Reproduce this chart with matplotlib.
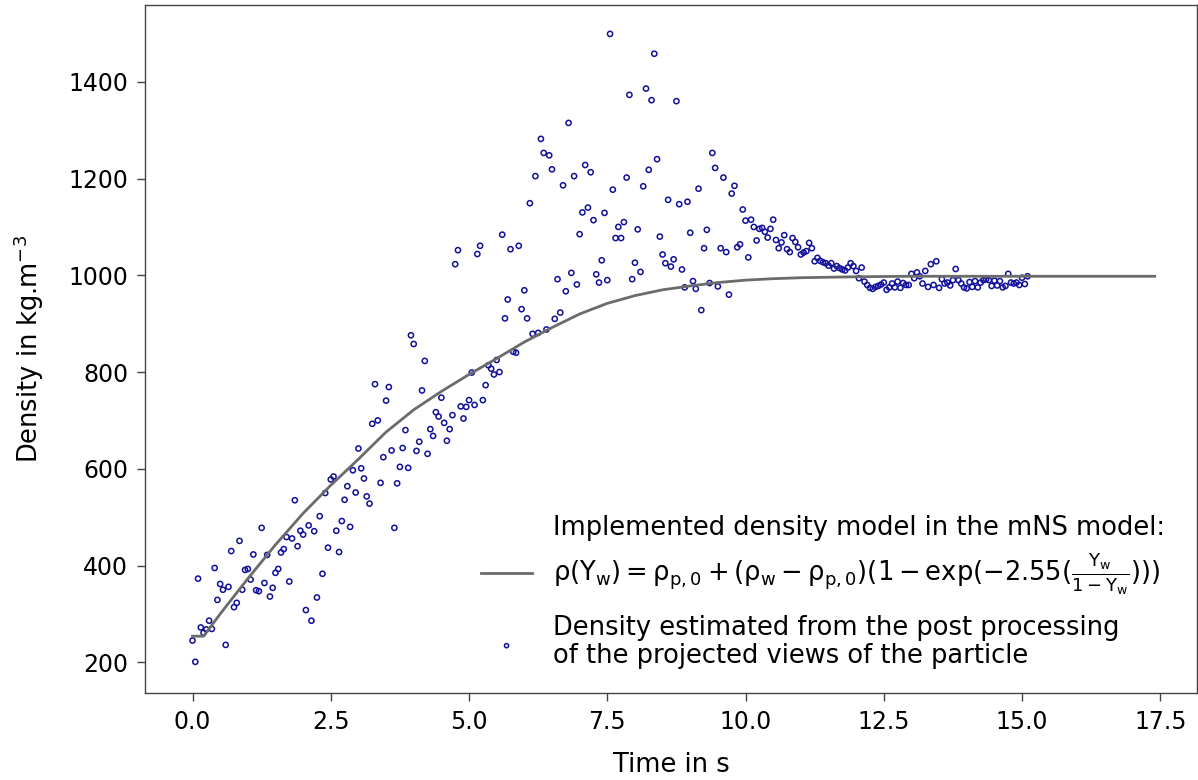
import matplotlib
matplotlib.use("Agg")
import matplotlib.pyplot as plt
from matplotlib.offsetbox import TextArea

plt.rcParams["font.family"] = ["DejaVu Sans"]
plt.rcParams["mathtext.default"] = "regular"

# --- measured points (time in s, density in kg/m3) ---
time_s = [
    0.0, 0.05, 0.1, 0.15, 0.2, 0.25, 0.3, 0.35, 0.4, 0.45, 0.5, 0.55, 0.6, 0.65, 0.7, 0.75, 0.8, 0.85, 0.9, 0.95,
    1.0, 1.05, 1.1, 1.15, 1.2, 1.25, 1.3, 1.35, 1.4, 1.45, 1.5, 1.55, 1.6, 1.65, 1.7, 1.75, 1.8, 1.85, 1.9, 1.95,
    2.0, 2.05, 2.1, 2.15, 2.2, 2.25, 2.3, 2.35, 2.4, 2.45, 2.5, 2.55, 2.6, 2.65, 2.7, 2.75, 2.8, 2.85, 2.9, 2.95,
    3.0, 3.05, 3.1, 3.15, 3.2, 3.25, 3.3, 3.35, 3.4, 3.45, 3.5, 3.55, 3.6, 3.65, 3.7, 3.75, 3.8, 3.85, 3.9, 3.95,
    4.0, 4.05, 4.1, 4.15, 4.2, 4.25, 4.3, 4.35, 4.4, 4.45, 4.5, 4.55, 4.6, 4.65, 4.7, 4.75, 4.8, 4.85, 4.9, 4.95,
    5.0, 5.05, 5.1, 5.15, 5.2, 5.25, 5.3, 5.35, 5.4, 5.45, 5.5, 5.55, 5.6, 5.65, 5.7, 5.75, 5.8, 5.85, 5.9, 5.95,
    6.0, 6.05, 6.1, 6.15, 6.2, 6.25, 6.3, 6.35, 6.4, 6.45, 6.5, 6.55, 6.6, 6.65, 6.7, 6.75, 6.8, 6.85, 6.9, 6.95,
    7.0, 7.05, 7.1, 7.15, 7.2, 7.25, 7.3, 7.35, 7.4, 7.45, 7.5, 7.55, 7.6, 7.65, 7.7, 7.75, 7.8, 7.85, 7.9, 7.95,
    8.0, 8.05, 8.1, 8.15, 8.2, 8.25, 8.3, 8.35, 8.4, 8.45, 8.5, 8.55, 8.6, 8.65, 8.7, 8.75, 8.8, 8.85, 8.9, 8.95,
    9.0, 9.05, 9.1, 9.15, 9.2, 9.25, 9.3, 9.35, 9.4, 9.45, 9.5, 9.55, 9.6, 9.65, 9.7, 9.75, 9.8, 9.85, 9.9, 9.95,
    10.0, 10.05, 10.1, 10.15, 10.2, 10.25, 10.3, 10.35, 10.4, 10.45, 10.5, 10.55, 10.6, 10.65, 10.7, 10.75, 10.8, 10.85, 10.9, 10.95,
    11.0, 11.05, 11.1, 11.15, 11.2, 11.25, 11.3, 11.35, 11.4, 11.45, 11.5, 11.55, 11.6, 11.65, 11.7, 11.75, 11.8, 11.85, 11.9, 11.95,
    12.0, 12.05, 12.1, 12.15, 12.2, 12.25, 12.3, 12.35, 12.4, 12.45, 12.5, 12.55, 12.6, 12.65, 12.7, 12.75, 12.8, 12.85, 12.9, 12.95,
    13.0, 13.05, 13.1, 13.15, 13.2, 13.25, 13.3, 13.35, 13.4, 13.45, 13.5, 13.55, 13.6, 13.65, 13.7, 13.75, 13.8, 13.85, 13.9, 13.95,
    14.0, 14.05, 14.1, 14.15, 14.2, 14.25, 14.3, 14.35, 14.4, 14.45, 14.5, 14.55, 14.6, 14.65, 14.7, 14.75, 14.8, 14.85, 14.9, 14.95,
    15.0, 15.05, 15.1,
]
density = [
    245, 201, 373, 272, 261, 268, 286, 269, 395, 329, 362, 350, 236, 356, 430, 314, 323, 451, 350, 391,
    393, 371, 423, 349, 347, 478, 364, 422, 336, 354, 385, 393, 427, 434, 459, 367, 456, 535, 440, 472,
    464, 308, 483, 286, 471, 334, 502, 383, 550, 437, 578, 584, 472, 428, 492, 536, 564, 480, 597, 551,
    642, 601, 580, 543, 528, 693, 775, 700, 571, 624, 741, 769, 638, 478, 570, 604, 643, 680, 602, 876,
    858, 637, 656, 762, 823, 631, 682, 668, 717, 708, 747, 695, 658, 682, 711, 1023, 1052, 729, 704, 728,
    742, 799, 732, 1044, 1061, 742, 773, 814, 807, 795, 825, 800, 1084, 911, 950, 1054, 842, 840, 1061, 930,
    969, 911, 1149, 879, 1205, 881, 1282, 1253, 888, 1248, 1219, 910, 992, 923, 1186, 967, 1315, 1005, 1205, 981,
    1085, 1130, 1228, 1140, 1213, 1114, 1002, 985, 1031, 1129, 990, 1499, 1177, 1077, 1100, 1077, 1110, 1202, 1373, 992,
    1026, 1095, 1007, 1184, 1386, 1218, 1362, 1458, 1240, 1080, 1043, 1025, 1156, 1018, 1033, 1360, 1147, 1012, 975, 1152,
    1088, 988, 972, 1179, 928, 1056, 1094, 984, 1253, 1222, 977, 1056, 1202, 1048, 960, 1169, 1185, 1058, 1064, 1136,
    1113, 1037, 1115, 1100, 1072, 1096, 1098, 1090, 1078, 1096, 1115, 1073, 1056, 1068, 1083, 1054, 1048, 1077, 1069, 1058,
    1043, 1047, 1050, 1067, 1056, 1029, 1036, 1030, 1027, 1025, 1020, 1025, 1014, 1019, 1015, 1012, 1010, 1016, 1025, 1019,
    1009, 994, 1016, 987, 980, 974, 972, 976, 978, 981, 985, 970, 975, 983, 975, 987, 974, 984, 980, 980,
    1003, 994, 1006, 998, 983, 1009, 976, 1023, 980, 1029, 974, 992, 983, 985, 979, 990, 1013, 990, 983, 975,
    973, 986, 976, 988, 975, 985, 990, 992, 990, 978, 989, 979, 988, 975, 978, 1003, 985, 983, 985, 980,
    995, 982, 998,
]

# --- model curve ---
model_t = [0.0, 0.2, 0.5, 1.0, 1.5, 2.0, 2.5, 3.0, 3.5, 4.0, 4.5, 5.0, 5.5, 6.0, 6.5,
           7.0, 7.5, 8.0, 8.5, 9.0, 9.5, 10.0, 10.5, 11.0, 12.0, 13.0, 17.4]
model_rho = [254, 254, 300, 373, 443, 508, 566, 620, 676, 722, 760, 795, 828, 862, 892,
             920, 942, 958, 970, 978, 985, 990, 993, 995, 997, 998, 998]

label_model = ("Implemented density model in the mNS model:\n"
               r"$\rho(Y_w) = \rho_{p,0} + (\rho_w - \rho_{p,0})(1 - \exp(-2.55(\frac{Y_w}{1-Y_w})))$")
label_points = "Density estimated from the post processing\nof the projected views of the particle"


def main():
    fig = plt.figure(figsize=(11.98, 7.8), dpi=100)
    ax = fig.add_axes([0.121, 0.1115, 0.878, 0.882])

    ax.plot(model_t, model_rho, color="#6b6b6b", lw=2.0, label=label_model)
    ax.scatter(time_s, density, s=14, facecolors="none", edgecolors="#10109a",
               linewidths=1.1, label=label_points)

    ax.set_xlim(-0.86, 18.16)
    ax.set_ylim(136.5, 1558.6)
    ax.set_xticks([0, 2.5, 5, 7.5, 10, 12.5, 15, 17.5])
    ax.set_xticklabels(["0.0", "2.5", "5.0", "7.5", "10.0", "12.5", "15.0", "17.5"])
    ax.set_yticks([200, 400, 600, 800, 1000, 1200, 1400])

    for sp in ax.spines.values():
        sp.set_color("#444444")
        sp.set_linewidth(1.0)
    ax.tick_params(direction="out", length=6, width=1, color="#444444", labelsize=17, pad=6)

    ax.set_xlabel("Time in s", fontsize=18.5, labelpad=13)
    ax.set_ylabel(r"Density in kg.m$^{-3}$", fontsize=18.5, labelpad=16)

    leg = ax.legend(loc="lower right", frameon=False, fontsize=18.5, handlelength=2.0,
                    markerscale=0.8, borderaxespad=0.6, labelspacing=0.7,
                    bbox_to_anchor=(0.994, -0.003))
    txts = leg.get_texts()
    txts[0].set_linespacing(1.33)
    txts[1].set_linespacing(1.1)
    # first entry: handle sits on the last (formula) line, like older matplotlib
    for box in leg.findobj(TextArea):
        if box._text is txts[0]:
            box._multilinebaseline = False

    fig.savefig("out.png", dpi=100)


if __name__ == '__main__':
    main()
